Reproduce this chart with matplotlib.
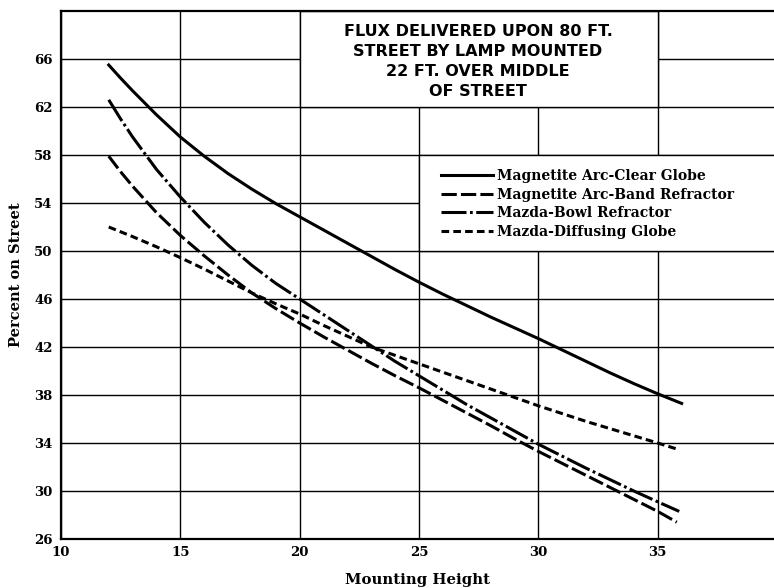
import matplotlib
matplotlib.use("Agg")
import matplotlib.pyplot as plt
from matplotlib.patches import Rectangle

# mounting height (ft) vs percent of flux delivered on the street
clear_x = [12, 12.5, 13, 14, 15, 16, 17, 18, 19, 20, 21, 22, 23, 24, 25, 26, 27, 28, 29,
           30, 31, 32, 33, 34, 35, 36]
clear_y = [65.5, 64.4, 63.35, 61.35, 59.5, 57.9, 56.45, 55.15, 53.95, 52.85, 51.75, 50.65,
           49.55, 48.45, 47.4, 46.4, 45.45, 44.5, 43.6, 42.7, 41.75, 40.8, 39.85, 38.95,
           38.1, 37.3]

band_x = [12, 12.5, 13, 14, 15, 16, 17, 18, 19, 20, 21, 22, 23, 24, 25, 26, 27, 28, 29,
          30, 31, 32, 33, 34, 35, 35.8]
band_y = [57.9, 56.6, 55.4, 53.2, 51.3, 49.6, 48.0, 46.5, 45.2, 44.0, 42.85, 41.75, 40.65,
          39.6, 38.6, 37.55, 36.5, 35.45, 34.35, 33.3, 32.3, 31.3, 30.3, 29.3, 28.3, 27.4]

bowl_x = [12, 12.5, 13, 14, 15, 16, 17, 18, 19, 20, 21, 22, 23, 24, 25, 26, 27, 28, 29,
          30, 31, 32, 33, 34, 35, 35.9]
bowl_y = [62.6, 61.0, 59.5, 56.8, 54.5, 52.4, 50.5, 48.8, 47.3, 46.0, 44.7, 43.4, 42.1,
          40.8, 39.6, 38.4, 37.2, 36.1, 35.0, 33.9, 32.9, 31.9, 30.95, 30.0, 29.1, 28.3]

diff_x = [12, 13, 14, 15, 16, 17, 18, 19, 20, 21, 22, 23, 24, 25, 26, 27, 28, 29, 30, 31,
          32, 33, 34, 35, 35.8]
diff_y = [52.0, 51.2, 50.35, 49.45, 48.5, 47.5, 46.5, 45.6, 44.75, 43.8, 42.9, 42.0, 41.3,
          40.6, 39.9, 39.2, 38.5, 37.8, 37.1, 36.45, 35.8, 35.2, 34.6, 34.0, 33.5]

labels = ["Magnetite Arc-Clear Globe", "Magnetite Arc-Band Refractor",
          "Mazda-Bowl Refractor", "Mazda-Diffusing Globe"]
title = "FLUX DELIVERED UPON 80 FT.\nSTREET BY LAMP MOUNTED\n22 FT. OVER MIDDLE\nOF STREET"

xticks = [10, 15, 20, 25, 30, 35]
yticks = [26, 30, 34, 38, 42, 46, 50, 54, 58, 62, 66]

plt.rcParams["lines.scale_dashes"] = False
serif = {"family": "DejaVu Serif", "weight": "bold"}

fig = plt.figure(figsize=(7.74, 5.88), dpi=100)
ax = fig.add_axes([0.0788, 0.0833, 0.9212, 0.898])
ax.set_xlim(10, 39.87)
ax.set_ylim(26, 70)

ax.set_axisbelow(True)
ax.grid(True, color="black", lw=1.0)
ax.set_xticks(xticks)
ax.set_yticks(yticks)
ax.tick_params(length=0, labelsize=9.5)
ax.tick_params(axis="y", pad=6)
ax.tick_params(axis="x", pad=5)
for lab in ax.get_xticklabels() + ax.get_yticklabels():
    lab.set_fontfamily("DejaVu Serif")
    lab.set_fontweight("bold")
for s in ["left", "top", "bottom"]:
    ax.spines[s].set_linewidth(1.6)
ax.spines["right"].set_visible(False)

# white panels for the title and the key, covering the grid
ax.add_patch(Rectangle((20, 62), 15, 8, facecolor="white", edgecolor="black",
                       lw=1.0, zorder=1))
ax.add_patch(Rectangle((25, 50), 15, 8, facecolor="white", edgecolor="black",
                       lw=1.0, zorder=1))
ax.text(27.47, 65.8, title, ha="center", va="center", fontsize=11.5,
        fontweight="bold", family="DejaVu Sans", linespacing=1.43, zorder=3)

lw = 2.2
ax.plot(clear_x, clear_y, color="black", lw=lw, label=labels[0], zorder=2)
ax.plot(band_x, band_y, color="black", lw=lw, dashes=(11, 3), label=labels[1], zorder=2)
ax.plot(bowl_x, bowl_y, color="black", lw=lw, dashes=(18, 2.5, 2, 2.5),
        label=labels[2], zorder=2)
ax.plot(diff_x, diff_y, color="black", lw=lw, dashes=(5.5, 3), label=labels[3], zorder=2)

leg = ax.legend(loc="upper left", bbox_to_anchor=(0.533, 0.701), frameon=False,
                borderpad=0, borderaxespad=0, handlelength=3.74, handletextpad=0.3,
                labelspacing=0.34, prop={"family": "DejaVu Serif", "weight": "bold",
                                         "size": 10})
leg.set_zorder(3)

ax.set_xlabel("Mounting Height", fontdict=serif, fontsize=10.7, labelpad=10)
ax.set_ylabel("Percent on Street", fontdict=serif, fontsize=10.5, labelpad=8)

fig.savefig("out.png", dpi=100)
